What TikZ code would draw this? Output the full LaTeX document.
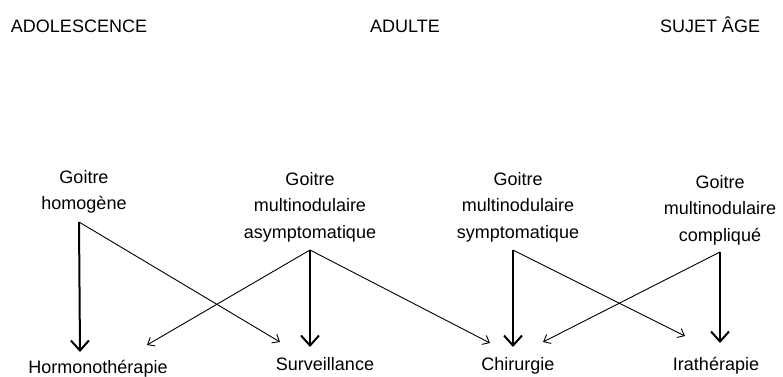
\documentclass[tikz,border=0pt]{standalone}
\usepackage{fontspec}
\setmainfont{Liberation Sans}
\usetikzlibrary{arrows.meta}

\tikzset{%
  every stage/.style={
    anchor=base,
    inner sep=0pt,
    font=\fontsize{18}{22}\selectfont
  },
  every goitre/.style={
    anchor=north,
    align=center,
    inner sep=0pt,
    font=\fontsize{18}{26.5}\selectfont
  },
  every treatment/.style={
    anchor=base,
    inner sep=0pt,
    font=\fontsize{18}{22}\selectfont
  },
  main link/.style={
    line width=2pt,
    -{Straight Barb[length=10pt,width=18pt]}
  },
  side link/.style={
    line width=0.9pt,
    -{Straight Barb[length=6pt,width=10pt]}
  },
}

\begin{document}
\begin{tikzpicture}[x=1pt, y=-1pt]
\useasboundingbox (0,0) rectangle (783,376);

\foreach \l/\x [count=\i] in {ADOLESCENCE/79, ADULTE/405, SUJET ÂGE/710}
  \node [every stage] (stage-\i) at (\x,32) {\l};

\node [every goitre] (homo)  at (84,170)  {Goitre\\homogène};
\node [every goitre] (asym)  at (310,172) {Goitre\\multinodulaire\\asymptomatique};
\node [every goitre] (sym)   at (518,172) {Goitre\\multinodulaire\\symptomatique};
\node [every goitre] (compl) at (720,175) {Goitre\\multinodulaire\\compliqué};

\node [every treatment] (hormo) at (98,373)  {Hormonothérapie};
\node [every treatment] (surv)  at (325,370) {Surveillance};
\node [every treatment] (chir)  at (518,370) {Chirurgie};
\node [every treatment] (ira)   at (716,370) {Irathérapie};

% departure points under each goitre
\coordinate (homo-out)  at (79,222);
\coordinate (asym-out)  at (310,250);
\coordinate (sym-out)   at (513,250);
\coordinate (compl-out) at (720,252);

% arrival points above each treatment
\coordinate (hormo-main) at (80,352);
\coordinate (hormo-side) at (147,345);
\coordinate (surv-main)  at (310,347);
\coordinate (surv-side)  at (280,342);
\coordinate (chir-main)  at (513,347);
\coordinate (chir-left)  at (490,343);
\coordinate (chir-right) at (543,342);
\coordinate (ira-main)   at (720,343);
\coordinate (ira-side)   at (685,336);

\foreach \s/\t in {homo/hormo, asym/surv, sym/chir, compl/ira}
  \draw [main link] (\s-out) -- (\t-main);

\foreach \s/\t in {homo/surv-side, asym/hormo-side, asym/chir-left,
                   sym/ira-side, compl/chir-right}
  \draw [side link] (\s-out) -- (\t);

\end{tikzpicture}
\end{document}
